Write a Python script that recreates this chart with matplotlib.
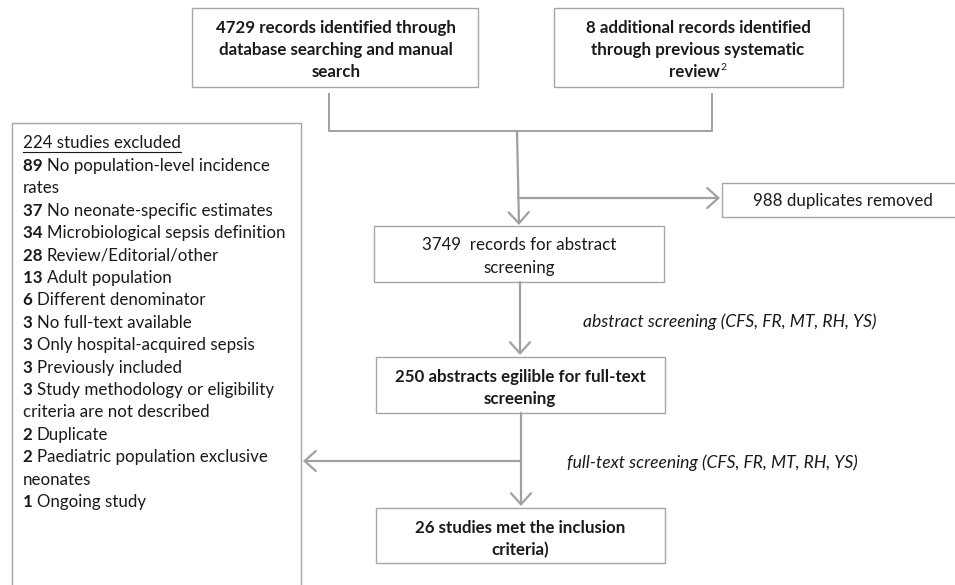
import matplotlib.pyplot as plt
from matplotlib.patches import Rectangle

# textes du diagramme
found_db = 4729
found_prev = 8
n_duplicates = 988
n_screened = 3749
n_fulltext = 250
n_included = 26
n_excluded = 224

excl_counts = [89, 37, 34, 28, 13, 6, 3, 3, 3, 3, 2, 2, 1]
excl_reasons = [
    ["No population-level incidence", "rates"],
    ["No neonate-specific estimates"],
    ["Microbiological sepsis definition"],
    ["Review/Editorial/other"],
    ["Adult population"],
    ["Different denominator"],
    ["No full-text available"],
    ["Only hospital-acquired sepsis"],
    ["Previously included"],
    ["Study methodology or eligibility", "criteria are not described"],
    ["Duplicate"],
    ["Paediatric population exclusive", "neonates"],
    ["Ongoing study"],
]
reviewers = "CFS, FR, MT, RH, YS"

plt.rcParams['font.family'] = ['Lato', 'DejaVu Sans']
FS = 12.2
EDGE = '#a6a6a6'
LINE = '#a0a0a0'
TXT = '#1a1a1a'

fig = plt.figure(figsize=(9.55, 5.85), dpi=100)
ax = fig.add_axes([0, 0, 1, 1])
ax.set_xlim(0, 955)
ax.set_ylim(585, 0)
ax.axis('off')
renderer = fig.canvas.get_renderer()
inv = ax.transData.inverted()


def right_of(t):
    bb = t.get_window_extent(renderer)
    return inv.transform((bb.x1, bb.y0))[0]


def box(x0, y0, x1, y1):
    ax.add_patch(Rectangle((x0, y0), x1 - x0, y1 - y0, fill=False,
                           edgecolor=EDGE, linewidth=1.0))


def box_text(cx, ys, lines, bold=False):
    for y, t in zip(ys, lines):
        ax.text(cx, y, t, ha='center', va='center', fontsize=FS,
                color=TXT, fontweight='bold' if bold else 'normal')


def line(xs, ys):
    ax.plot(xs, ys, color=LINE, lw=1.4, solid_capstyle='butt')


def arrow(x0, y0, x1, y1):
    ax.annotate('', xy=(x1, y1), xytext=(x0, y0),
                arrowprops=dict(arrowstyle='->,head_length=0.5,head_width=0.45',
                                color=LINE, lw=1.6, mutation_scale=16,
                                shrinkA=0, shrinkB=0))


# boites du haut
box(192, 8, 478, 87)
box_text(336, [28, 50, 72], [f"{found_db} records identified through",
                             "database searching and manual", "search"], bold=True)
box(554, 8, 843, 87)
box_text(698, [28, 50], [f"{found_prev} additional records identified",
                         "through previous systematic"], bold=True)
rv = ax.text(694, 72, "review", ha='center', va='center', fontsize=FS,
             color=TXT, fontweight='bold')
ax.text(right_of(rv) + 1, 68, "2", ha='left', va='center', fontsize=7.5, color=TXT)

# connexions
line([329, 329, 712, 712], [93, 131, 131, 93])
arrow(517, 131, 519, 225)
arrow(518, 198, 720, 198)

box(722, 183, 960, 217)
box_text(843, [201], [f"{n_duplicates} duplicates removed"])

box(374, 226, 664, 282)
box_text(519, [245, 268], [f"{n_screened}  records for abstract", "screening"])

arrow(520, 282, 520, 355)
ax.text(583, 322, f"abstract screening ({reviewers})", ha='left', va='center',
        fontsize=12.6, color=TXT, style='italic')

box(376, 357, 665, 413)
box_text(520, [377, 399], [f"{n_fulltext} abstracts egilible for full-text",
                           "screening"], bold=True)

arrow(521, 413, 521, 506)
arrow(521, 461, 303, 461)
ax.text(567, 463, f"full-text screening ({reviewers})", ha='left', va='center',
        fontsize=12.6, color=TXT, style='italic')

box(376, 508, 665, 563)
box_text(520, [528, 550], [f"{n_included} studies met the inclusion",
                           "criteria)"], bold=True)

# boite des exclusions
box(12, 123, 301, 600)

x_left = 23
hdr = ax.text(x_left, 143, f"{n_excluded} studies excluded", ha='left',
              va='center', fontsize=FS, color=TXT)
ax.plot([x_left, right_of(hdr)], [152, 152], color=TXT, lw=0.8)

y = 166
step = 22.4
for n, reason in zip(excl_counts, excl_reasons):
    t = ax.text(x_left, y, f"{n} ", ha='left', va='center', fontsize=FS,
                color=TXT, fontweight='bold')
    ax.text(right_of(t), y, reason[0], ha='left', va='center', fontsize=FS, color=TXT)
    y += step
    for extra in reason[1:]:
        ax.text(x_left, y, extra, ha='left', va='center', fontsize=FS, color=TXT)
        y += step

fig.savefig('out.png', dpi=100)
